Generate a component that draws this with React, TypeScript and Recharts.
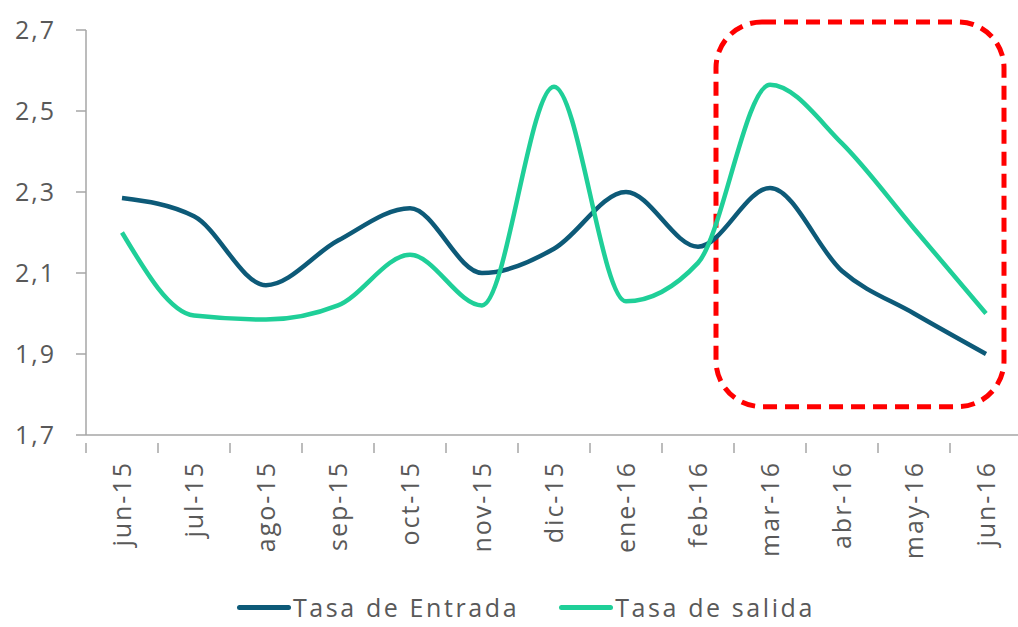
import React from 'react';
import {
  LineChart,
  Line,
  XAxis,
  YAxis,
  Legend,
  ReferenceArea,
} from 'recharts';

const months = [
  'jun-15', 'jul-15', 'ago-15', 'sep-15', 'oct-15', 'nov-15', 'dic-15',
  'ene-16', 'feb-16', 'mar-16', 'abr-16', 'may-16', 'jun-16',
];
const tasaEntrada = [2.285, 2.24, 2.07, 2.18, 2.26, 2.1, 2.16, 2.3, 2.165, 2.31, 2.105, 2.0, 1.9];
const tasaSalida = [2.2, 1.995, 1.985, 2.02, 2.145, 2.02, 2.56, 2.03, 2.125, 2.565, 2.42, 2.21, 2.0];
const yTicks = [1.7, 1.9, 2.1, 2.3, 2.5, 2.7];

const data = months.map((m, i) => ({
  month: m,
  entrada: tasaEntrada[i],
  salida: tasaSalida[i],
}));

const FONT = '"Open Sans", sans-serif';
const TEXT = '#595959';
const AXIS = '#a6a6a6';
const HALF_BAND = 36;
const FS = 25;
const LS = 2.6;

const fmt = (v: number) => v.toFixed(1).replace('.', ',');

function MonthTick(props: any) {
  const { x, y, payload } = props;
  return (
    <g transform={`translate(${x},${y})`}>
      <line x1={-HALF_BAND} y1={0} x2={-HALF_BAND} y2={10} stroke={AXIS} strokeWidth={1.5} />
      <text
        transform="rotate(-90)"
        x={-18}
        y={0}
        dy="0.36em"
        textAnchor="end"
        fill={TEXT}
        fontSize={FS}
        fontFamily={FONT}
        style={{ letterSpacing: 2 }}
      >
        {payload.value}
      </text>
    </g>
  );
}

function DashedBox(props: any) {
  const { x, y, width, height } = props;
  return (
    <rect
      x={x - 54}
      y={y}
      width={width + 72}
      height={height}
      rx={46}
      ry={46}
      fill="none"
      stroke="#ff0000"
      strokeWidth={5}
      strokeDasharray="14 8"
    />
  );
}

function LegendContent(props: any) {
  const { payload } = props;
  return (
    <div style={{ display: 'flex', justifyContent: 'center', gap: 40, paddingTop: 15, paddingLeft: 30 }}>
      {(payload || []).map((p: any) => (
        <div key={p.value} style={{ display: 'flex', alignItems: 'center' }}>
          <span
            style={{
              display: 'inline-block',
              width: 54,
              height: 5,
              borderRadius: 3,
              background: p.color,
              marginRight: 2,
            }}
          />
          <span
            style={{
              fontFamily: FONT,
              fontSize: FS,
              color: TEXT,
              letterSpacing: LS,
            }}
          >
            {p.value}
          </span>
        </div>
      ))}
    </div>
  );
}

export default function App() {
  return (
    <div
      style={{
        position: 'absolute',
        left: 0,
        top: 0,
        width: 1018,
        height: 627,
        overflow: 'hidden',
        background: '#fff',
      }}
    >
      <LineChart
        width={1030}
        height={627}
        data={data}
        margin={{ top: 30, right: 8, bottom: 0, left: 0 }}
      >
        <XAxis
          dataKey="month"
          height={140}
          padding={{ left: HALF_BAND, right: HALF_BAND }}
          axisLine={{ stroke: AXIS, strokeWidth: 1.5 }}
          tickLine={false}
          tick={<MonthTick />}
          interval={0}
        />
        <YAxis
          width={86}
          domain={[1.7, 2.7]}
          ticks={yTicks}
          tickFormatter={fmt}
          axisLine={{ stroke: AXIS, strokeWidth: 1.5 }}
          tickLine={{ stroke: AXIS, strokeWidth: 1.5 }}
          tickSize={10}
          tickMargin={20}
          tick={{ fill: TEXT, fontSize: FS, fontFamily: FONT, style: { letterSpacing: 2 } }}
        />
        <Line
          type="monotone"
          dataKey="entrada"
          name="Tasa de Entrada"
          stroke="#0d5a78"
          strokeWidth={4.5}
          dot={false}
          isAnimationActive={false}
        />
        <Line
          type="monotone"
          dataKey="salida"
          name="Tasa de salida"
          stroke="#1fcf98"
          strokeWidth={4.5}
          dot={false}
          isAnimationActive={false}
        />
        <ReferenceArea
          x1="mar-16"
          x2="jun-16"
          y1={1.77}
          y2={2.72}
          ifOverflow="visible"
          shape={<DashedBox />}
        />
        <Legend
          verticalAlign="bottom"
          height={52}
          content={<LegendContent />}
        />
      </LineChart>
    </div>
  );
}
